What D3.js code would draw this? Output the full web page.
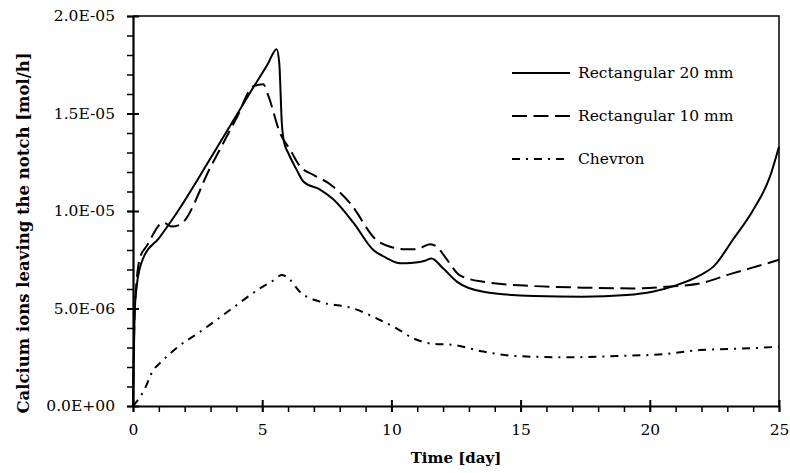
<!DOCTYPE html>
<html>
<head>
<meta charset="utf-8">
<script src="https://cdn.jsdelivr.net/npm/d3@7"></script>
<style>
  body { margin: 0; background: #fff; }
  svg text { font-family: "DejaVu Serif", serif; fill: #000; }
</style>
</head>
<body>
<div id="chart"></div>
<script>
// values in units of 1E-06 mol/h
var days20 = [0, 0.07, 0.14, 0.27, 0.4, 1.0, 1.69, 3.0, 4.5, 5.2, 5.56, 5.66, 5.76, 5.85, 6.0, 6.3, 6.6, 7.24, 7.75, 8.53, 9.3, 9.8, 10.33, 10.85, 11.3, 11.55, 12.0, 12.53, 13.56, 15.5, 17.4, 19.1, 20.1, 21.04, 21.94, 22.5, 23.2, 24.0, 24.65, 25];
var rect20 = [0, 4.9, 6.1, 7.1, 7.6, 8.6, 9.9, 12.7, 16.0, 17.5, 18.3, 17.6, 14.5, 13.5, 13.0, 12.2, 11.5, 11.1, 10.6, 9.4, 8.0, 7.6, 7.32, 7.35, 7.45, 7.57, 7.06, 6.38, 5.86, 5.64, 5.6, 5.69, 5.86, 6.2, 6.7, 7.2, 8.5, 10.05, 11.76, 13.3];

var days10 = [0, 0.07, 0.27, 0.53, 1.17, 1.5, 1.82, 3.0, 4.0, 4.66, 5.04, 5.24, 5.69, 6.1, 6.46, 6.98, 7.6, 8.4, 9.43, 10.0, 10.46, 10.97, 11.5, 11.75, 12.1, 12.65, 13.56, 15.5, 17.4, 19.36, 20.65, 21.94, 23.2, 24.5, 25];
var rect10 = [0, 5.0, 7.6, 8.2, 9.4, 9.2, 9.3, 12.25, 14.75, 16.4, 16.5, 15.9, 14.0, 13.1, 12.3, 11.85, 11.4, 10.4, 8.5, 8.15, 8.04, 8.04, 8.3, 8.17, 7.6, 6.7, 6.37, 6.15, 6.07, 6.03, 6.12, 6.29, 6.8, 7.3, 7.5];

var daysChev = [0, 0.4, 0.79, 1.04, 1.75, 2.59, 3.75, 4.91, 5.5, 5.75, 5.94, 6.52, 7.23, 8.53, 9.56, 10.2, 10.85, 11.49, 12.4, 13.56, 14.85, 16.8, 18.7, 20.65, 21.94, 23.9, 25];
var chevron = [0, 0.73, 1.85, 2.2, 3.04, 3.8, 4.92, 6.03, 6.5, 6.72, 6.63, 5.78, 5.35, 5.0, 4.41, 3.98, 3.47, 3.21, 3.13, 2.79, 2.56, 2.5, 2.56, 2.67, 2.87, 2.96, 3.04];

var seriesNames = ["Rectangular 20 mm", "Rectangular 10 mm", "Chevron"];
var xTicks = [0, 5, 10, 15, 20, 25];
var yTicks = [0, 5, 10, 15, 20];
var yTickLabels = ["0.0E+00", "5.0E-06", "1.0E-05", "1.5E-05", "2.0E-05"];

var width = 790, height = 473;
var margin = {top: 16, right: 11, bottom: 67, left: 133};
var w = width - margin.left - margin.right,
    h = height - margin.top - margin.bottom;

var svg = d3.select("#chart").append("svg")
    .attr("width", width)
    .attr("height", height);

var g = svg.append("g")
    .attr("transform", "translate(" + margin.left + "," + margin.top + ")");

var x = d3.scaleLinear().domain([0, 25]).range([0, w]);
var y = d3.scaleLinear().domain([0, 20]).range([h, 0]);

// top + right border of plot area
g.append("path")
    .attr("d", "M0,0H" + w + "V" + h)
    .attr("fill", "none")
    .attr("stroke", "#000")
    .attr("stroke-width", 1.5);

// minor ticks
g.append("g")
    .attr("transform", "translate(0," + h + ")")
    .call(d3.axisBottom(x).tickValues(d3.range(0, 26, 1)).tickSize(6).tickFormat(""))
    .call(a => a.select(".domain").remove())
    .call(a => a.selectAll("line").attr("stroke-width", 1.5));
g.append("g")
    .call(d3.axisLeft(y).tickValues(d3.range(0, 21, 1)).tickSize(6).tickFormat(""))
    .call(a => a.select(".domain").remove())
    .call(a => a.selectAll("line").attr("stroke-width", 1.5));

// major axes
var xAxis = g.append("g")
    .attr("transform", "translate(0," + h + ")")
    .call(d3.axisBottom(x).tickValues(xTicks).tickSizeInner(6).tickSizeOuter(0).tickPadding(12));
xAxis.selectAll(".tick line").attr("y1", -6).attr("stroke-width", 2);
xAxis.select(".domain").attr("stroke-width", 2.2);
xAxis.selectAll("text").style("font-size", "15.5px");

var yAxis = g.append("g")
    .call(d3.axisLeft(y).tickValues(yTicks).tickSizeInner(6).tickSizeOuter(0).tickPadding(12)
      .tickFormat(function(d, i) { return yTickLabels[i]; }));
yAxis.selectAll(".tick line").attr("x1", 6).attr("stroke-width", 2);
yAxis.select(".domain").attr("stroke-width", 2.2);
yAxis.selectAll("text").style("font-size", "15.5px");

// series
var line = d3.line()
    .x(function(d) { return x(d[0]); })
    .y(function(d) { return y(d[1]); })
    .curve(d3.curveMonotoneX);

var series = [
  {name: seriesNames[0], pts: d3.zip(days20, rect20), dash: null},
  {name: seriesNames[1], pts: d3.zip(days10, rect10), dash: "15,6.5"},
  {name: seriesNames[2], pts: d3.zip(daysChev, chevron), dash: "8,6,2,6"}
];

series.forEach(function(s) {
  g.append("path")
    .datum(s.pts)
    .attr("fill", "none")
    .attr("stroke", "#000")
    .attr("stroke-width", 2)
    .attr("stroke-dasharray", s.dash)
    .attr("d", line);
});

// legend
var legend = svg.append("g");
series.forEach(function(s, i) {
  var ly = 73 + i * 43;
  legend.append("line")
    .attr("x1", 512).attr("x2", 570)
    .attr("y1", ly).attr("y2", ly)
    .attr("stroke", "#000")
    .attr("stroke-width", 2)
    .attr("stroke-dasharray", s.dash);
  legend.append("text")
    .attr("x", 578).attr("y", ly)
    .attr("dy", "0.35em")
    .style("font-size", "15.5px")
    .text(s.name);
});

// axis titles
svg.append("text")
    .attr("x", margin.left + w / 2)
    .attr("y", 463)
    .style("text-anchor", "middle")
    .style("font-size", "15px")
    .style("font-weight", "bold")
    .text("Time [day]");

svg.append("text")
    .attr("transform", "translate(29,233) rotate(-90)")
    .style("text-anchor", "middle")
    .style("font-size", "16.5px")
    .style("font-weight", "bold")
    .text("Calcium ions leaving the notch [mol/h]");
</script>
</body>
</html>
